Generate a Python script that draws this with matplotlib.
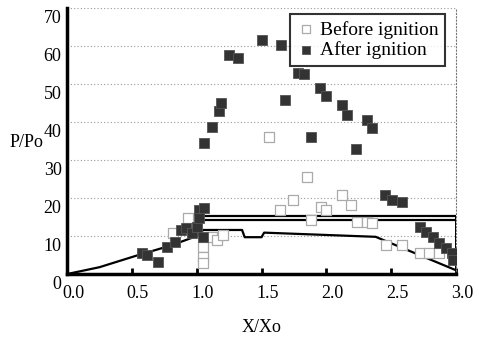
import matplotlib
matplotlib.use("Agg")
import matplotlib.pyplot as plt
import matplotlib.transforms as mtrans

# After ignition (filled squares)
after_x = [0.58, 0.62, 0.70, 0.77, 0.83, 0.88, 0.92, 0.96, 1.00, 1.02, 1.02, 1.05, 1.06,
           1.06, 1.12, 1.17, 1.19, 1.25, 1.32, 1.50, 1.65, 1.68, 1.78, 1.83, 1.88, 1.95,
           2.00, 2.12, 2.16, 2.23, 2.31, 2.35, 2.45, 2.51, 2.58, 2.72, 2.77, 2.82, 2.87,
           2.92, 2.97, 2.98]
after_y = [5.5, 5.0, 3.2, 7.1, 8.4, 11.5, 12.0, 10.8, 12.4, 16.8, 14.7, 9.7, 17.3,
           34.5, 38.7, 43.0, 45.0, 57.6, 57.0, 61.6, 60.3, 45.8, 53.0, 52.6, 36.0, 49.0,
           47.0, 44.5, 41.8, 33.0, 40.5, 38.4, 20.8, 19.5, 19.0, 12.4, 11.0, 9.7, 8.2,
           6.8, 5.5, 3.7]

# Before ignition (open squares)
before_x = [0.82, 0.93, 1.05, 1.05, 1.05, 1.12, 1.16, 1.20, 1.56, 1.64, 1.74, 1.85,
            1.88, 1.96, 2.00, 2.12, 2.19, 2.24, 2.31, 2.35, 2.46, 2.58, 2.72, 2.79, 2.87]
before_y = [10.8, 14.7, 7.1, 4.5, 2.9, 9.7, 9.0, 10.3, 36.0, 16.8, 19.5, 25.5,
            14.2, 17.6, 16.8, 20.8, 18.2, 13.7, 13.7, 13.4, 7.6, 7.6, 5.5, 5.5, 5.5]

# Solid profile line
prof_x = [0.0, 0.25, 0.55, 0.80, 1.00, 1.05, 1.35, 1.37, 1.50, 1.52, 2.38, 3.00]
prof_y = [0.0, 1.8, 5.0, 7.5, 10.0, 11.6, 11.6, 9.7, 9.7, 10.9, 9.8, 1.0]

# Upper double lines
band_x = [1.05, 3.0]
band_hi = [15.4, 15.4]
band_lo = [14.2, 14.2]

xticks = [0.0, 0.5, 1.0, 1.5, 2.0, 2.5, 3.0]
xticklabels = ["0.0", "0.5", "1.0", "1.5", "2.0", "2.5", "3.0"]
yticks = [0, 10, 20, 30, 40, 50, 60, 70]
yticklabels = ["0", "10", "20", "30", "40", "50", "60", "70"]

plt.rcParams['font.family'] = ['Liberation Serif', 'DejaVu Serif']

fig = plt.figure(figsize=(4.79, 3.40), dpi=100)
ax = fig.add_axes([0.140, 0.194, 0.812, 0.782])
ax.set_xlim(0, 3.0)
ax.set_ylim(0, 70)

for yv in yticks[1:]:
    ax.axhline(yv, color='#999999', lw=0.8, ls=(0, (1, 2)), zorder=1)

ax.plot(prof_x, prof_y, color='black', lw=1.6, zorder=3)
ax.plot(band_x, band_hi, color='black', lw=1.6, zorder=3)
ax.plot(band_x, band_lo, color='black', lw=1.6, zorder=3)
ax.plot([3.0, 3.0], [1.0, 15.4], color='black', lw=1.4, zorder=3)

ax.scatter(before_x, before_y, marker='s', s=50, facecolors='white',
           edgecolors='#aaaaaa', linewidths=0.9, zorder=4, label='Before ignition')
ax.scatter(after_x, after_y, marker='s', s=50, facecolors='#333333',
           edgecolors='#555555', linewidths=0.6, zorder=5, label='After ignition')

ax.spines['left'].set_linewidth(2.5)
ax.spines['bottom'].set_linewidth(2.5)
ax.spines['top'].set_visible(False)
ax.spines['right'].set_linestyle((0, (1, 2)))
ax.spines['right'].set_color('#777777')
ax.spines['right'].set_linewidth(0.8)

ax.set_xticks(xticks)
ax.set_xticklabels(xticklabels)
ax.set_yticks(yticks)
ax.set_yticklabels(yticklabels)
ax.tick_params(axis='x', direction='in', length=4, width=2, labelsize=13, pad=8)
ax.tick_params(axis='y', length=0, labelsize=13, pad=4)

for lab in ax.get_xticklabels():
    lab.set_transform(lab.get_transform() + mtrans.ScaledTranslation(6/100, 0, fig.dpi_scale_trans))
for lab in ax.get_yticklabels():
    lab.set_transform(lab.get_transform() + mtrans.ScaledTranslation(0, -8/100, fig.dpi_scale_trans))

ax.set_xlabel('X/Xo', fontsize=13, labelpad=12)
fig.text(0.02, 0.58, 'P/Po', fontsize=13, ha='left', va='center')

leg = ax.legend(loc='upper right', bbox_to_anchor=(0.997, 1.015), fontsize=14,
                frameon=True, fancybox=False, handletextpad=0.2, borderpad=0.35,
                labelspacing=0.15, handlelength=1.0, markerscale=0.75)
leg.get_frame().set_edgecolor('black')
leg.get_frame().set_linewidth(1.5)

fig.savefig('out.png', dpi=100)
